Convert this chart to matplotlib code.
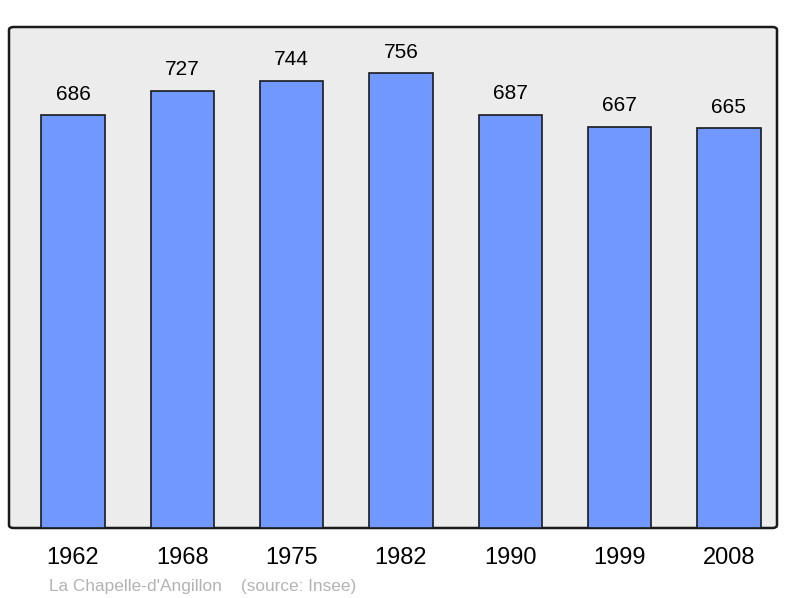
import matplotlib.pyplot as plt
from matplotlib.patches import FancyBboxPatch

# Population data for La Chapelle-d'Angillon
years = ["1962", "1968", "1975", "1982", "1990", "1999", "2008"]
population = [686, 727, 744, 756, 687, 667, 665]

plt.rcParams['font.family'] = ['Liberation Sans', 'DejaVu Sans']

fig = plt.figure(figsize=(8, 5.98), dpi=100)
ax = fig.add_axes([9 / 800, 70 / 598, 768 / 800, 501 / 598])
ax.set_xlim(-0.585, 6.44)
ax.set_ylim(0, 833)
ax.axis("off")

# Rounded background box
bg = FancyBboxPatch((0, 0), 1, 1, boxstyle="round,pad=0,rounding_size=0.006",
                    transform=ax.transAxes, facecolor="#ececec",
                    edgecolor="#1a1a1a", linewidth=1.8, zorder=0, clip_on=False)
ax.add_patch(bg)

x = list(range(len(years)))
ax.bar(x, population, width=0.58, color="#7098ff", edgecolor="#1a1a1a",
       linewidth=1.2, zorder=2)

for xi, v in zip(x, population):
    ax.text(xi, v + 19, str(v), ha="center", va="bottom", fontsize=15, color="black")

for xi, yr in zip(x, years):
    ax.text(xi, -50, yr, ha="center", va="center", fontsize=17, color="black")

fig.text(49 / 800, 1 - 586 / 598, "La Chapelle-d'Angillon    (source: Insee)",
         ha="left", va="center", fontsize=12.4, color="#b3b3b3")

fig.savefig("out.png", dpi=100)
